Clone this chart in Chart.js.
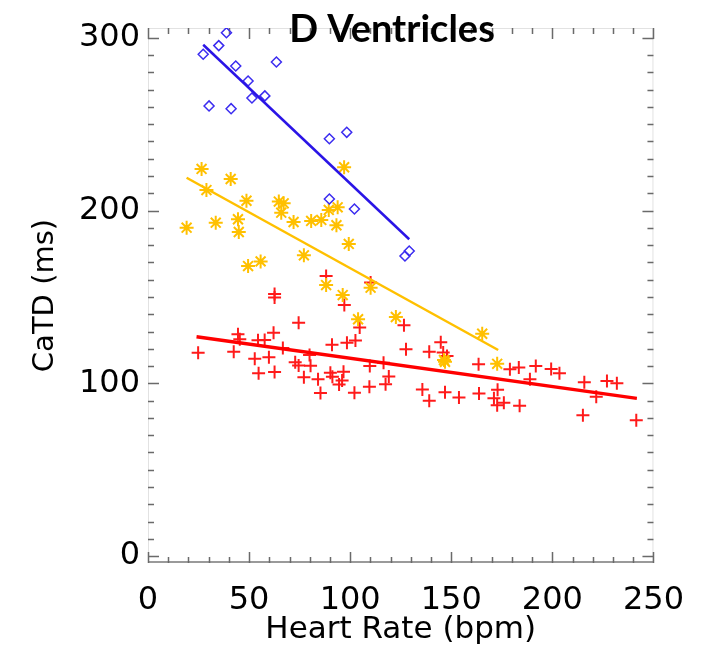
<!DOCTYPE html>
<html>
<head>
<meta charset="utf-8">
<script src="https://cdn.jsdelivr.net/npm/chart.js@4.4.1/dist/chart.umd.min.js"></script>
<style>
html,body{margin:0;padding:0;background:#fff;}
#c{display:block;}
</style>
</head>
<body>
<canvas id="c" width="702" height="649"></canvas>
<script>
// ---- data ----
const titleText = "D Ventricles";
const xTitle = "Heart Rate (bpm)";
const yTitle = "CaTD (ms)";
const xTickValues = [0, 50, 100, 150, 200, 250];
const yTickValues = [0, 100, 200, 300];

// blue diamonds
const blueX = [27.3, 35.0, 38.8, 43.4, 49.5, 51.4, 57.8, 63.5, 30.2, 41.1, 89.7, 98.3, 89.7, 102.1, 127.1, 129.2];
const blueY = [290.5, 295.5, 303.0, 283.7, 275.0, 265.2, 266.4, 286.0, 260.6, 259.0, 241.6, 245.3, 206.7, 200.9, 173.7, 176.6];
const blueLineX = [27.3, 129.2];
const blueLineY = [296.0, 183.4];

// yellow asterisks
const yellowX = [19.1, 26.5, 28.9, 33.5, 40.9, 44.5, 44.9, 48.7, 49.5, 55.7, 64.7, 67.1, 65.9, 72.0, 77.1, 80.7, 85.7, 89.4, 93.8, 93.2, 97.0, 99.3, 88.1, 96.3, 110.1, 103.9, 122.6, 146.4, 146.9, 165.3, 172.7];
const yellowY = [190.1, 224.1, 211.9, 193.0, 218.3, 195.0, 187.6, 205.7, 167.9, 170.6, 205.2, 204.2, 198.8, 193.4, 174.1, 194.0, 194.6, 200.4, 201.9, 191.5, 225.1, 180.7, 156.9, 151.1, 155.4, 137.1, 138.4, 113.5, 112.5, 128.7, 111.3];
const yellowLineX = [19.1, 173.2];
const yellowLineY = [219.0, 119.3];

// red crosses
const redX = [24.8, 42.4, 44.5, 45.4, 52.8, 54.4, 57.7, 54.7, 59.8, 62.1, 62.6, 62.6, 62.6, 66.7, 72.8, 74.5, 74.5, 79.9, 80.4, 77.1, 84.1, 85.3, 88.1, 91.0, 98.4, 90.2, 91.2, 96.7, 96.0, 94.5, 97.1, 102.6, 104.7, 102.1, 110.1, 109.7, 109.5, 116.5, 119.1, 117.5, 126.6, 127.6, 139.1, 144.8, 146.0, 147.9, 135.7, 139.1, 146.9, 153.8, 163.5, 163.7, 172.9, 171.1, 172.7, 176.0, 179.0, 183.4, 183.8, 188.9, 191.8, 199.4, 203.5, 215.8, 215.1, 221.7, 227.0, 231.9, 241.5];
const redY = [117.7, 118.3, 128.4, 125.5, 114.2, 124.9, 125.1, 105.8, 115.1, 129.3, 106.5, 151.7, 149.7, 120.4, 112.2, 110.3, 135.1, 116.4, 110.2, 103.5, 102.3, 94.4, 162.1, 122.3, 123.5, 106.1, 103.8, 106.7, 101.6, 99.3, 145.3, 124.8, 132.3, 94.6, 158.4, 110.0, 98.0, 111.9, 103.9, 99.5, 133.6, 119.7, 118.3, 123.8, 117.8, 115.9, 96.4, 89.9, 94.8, 91.8, 111.1, 94.1, 96.3, 91.3, 87.3, 88.8, 108.1, 109.1, 87.0, 102.3, 110.0, 108.3, 105.8, 100.6, 81.6, 92.2, 101.3, 100.0, 78.7];
const redLineX = [24.0, 241.8];
const redLineY = [127.0, 91.3];

function pts(xs, ys) { return xs.map((x, i) => ({x: x, y: ys[i]})); }

const framePlugin = {
  id: 'frame',
  beforeDatasetsDraw(chart) {
    const ctx = chart.ctx;
    const a = chart.chartArea;
    const xs = chart.scales.x, ys = chart.scales.y;
    ctx.save();
    ctx.lineWidth = 1;
    ctx.strokeStyle = '#e2e2e2';
    ctx.beginPath();
    ctx.moveTo(a.left + 0.5, a.bottom);
    ctx.lineTo(a.left + 0.5, a.top + 0.5);
    ctx.lineTo(a.right - 0.5, a.top + 0.5);
    ctx.lineTo(a.right - 0.5, a.bottom);
    ctx.stroke();
    ctx.strokeStyle = '#9a9a9a';
    ctx.lineWidth = 2;
    ctx.beginPath();
    ctx.moveTo(a.left, a.bottom - 1);
    ctx.lineTo(a.right, a.bottom - 1);
    ctx.stroke();
    ctx.strokeStyle = '#6a6a6a';
    ctx.lineWidth = 1.5;
    ctx.beginPath();
    for (let v = 0; v <= 250; v += 10) {
      const px = Math.round(xs.getPixelForValue(v)) + 0.5;
      const len = (v % 50 === 0) ? 11 : 6;
      ctx.moveTo(px, a.bottom); ctx.lineTo(px, a.bottom - len);
      ctx.moveTo(px, a.top); ctx.lineTo(px, a.top + len);
    }
    for (let v = 0; v <= 300; v += 10) {
      const py = Math.round(ys.getPixelForValue(v)) + 0.5;
      const len = (v % 100 === 0) ? 11 : 6;
      ctx.moveTo(a.left, py); ctx.lineTo(a.left + len, py);
      ctx.moveTo(a.right, py); ctx.lineTo(a.right - len, py);
    }
    ctx.stroke();
    ctx.restore();
  },
  afterDraw(chart) {
    const ctx = chart.ctx;
    const a = chart.chartArea;
    ctx.save();
    ctx.font = 'bold 38px Lato';
    ctx.fillStyle = '#000';
    ctx.textAlign = 'center';
    ctx.textBaseline = 'alphabetic';
    ctx.fillText(titleText, 392, a.top + 14);
    ctx.restore();
  }
};

new Chart(document.getElementById('c'), {
  type: 'scatter',
  data: {
    datasets: [
      { label: 'blue', data: pts(blueX, blueY), pointStyle: 'rectRot', pointRadius: 5, borderColor: '#3b2cf0', backgroundColor: 'rgba(0,0,0,0)', borderWidth: 1.5, order: 3 },
      { label: 'yellow', data: pts(yellowX, yellowY), pointStyle: 'star', pointRadius: 7, borderColor: '#ffc000', backgroundColor: '#ffc000', borderWidth: 2, order: 3 },
      { label: 'red', data: pts(redX, redY), pointStyle: 'cross', pointRadius: 6.5, borderColor: '#ff1a1a', backgroundColor: '#ff1a1a', borderWidth: 2, order: 3 },
      { label: 'blueFit', data: pts(blueLineX, blueLineY), showLine: true, pointRadius: 0, borderColor: '#2a14e6', borderWidth: 2.5, order: 1 },
      { label: 'yellowFit', data: pts(yellowLineX, yellowLineY), showLine: true, pointRadius: 0, borderColor: '#ffc000', borderWidth: 2.5, order: 1 },
      { label: 'redFit', data: pts(redLineX, redLineY), showLine: true, pointRadius: 0, borderColor: '#ff0000', borderWidth: 3.5, order: 1 }
    ]
  },
  options: {
    responsive: false,
    devicePixelRatio: 1,
    animation: false,
    events: [],
    layout: { padding: { top: 28, right: 42, left: 0, bottom: 0 } },
    plugins: { legend: { display: false }, tooltip: { enabled: false }, title: { display: false } },
    scales: {
      x: {
        type: 'linear', min: 0, max: 250,
        afterBuildTicks: s => { s.ticks = xTickValues.map(v => ({value: v})); },
        afterFit: s => { s.height = 86; },
        grid: { display: false, drawTicks: false },
        border: { display: false },
        ticks: { font: { family: 'DejaVu Sans', size: 32 }, color: '#000', padding: 18, maxRotation: 0 },
        title: { display: true, text: xTitle, font: { family: 'DejaVu Sans', size: 31 }, color: '#000', padding: { top: 0, bottom: 0 } }
      },
      y: {
        type: 'linear', min: -4, max: 305.7,
        afterBuildTicks: s => { s.ticks = yTickValues.map(v => ({value: v})); },
        afterFit: s => { s.width = 148; },
        grid: { display: false, drawTicks: false },
        border: { display: false },
        ticks: { font: { family: 'DejaVu Sans', size: 32 }, color: '#000', padding: 8 },
        title: { display: true, text: yTitle, font: { family: 'DejaVu Sans', size: 29 }, color: '#000', padding: { top: 28, bottom: 0 } }
      }
    }
  },
  plugins: [framePlugin]
});
</script>
</body>
</html>
